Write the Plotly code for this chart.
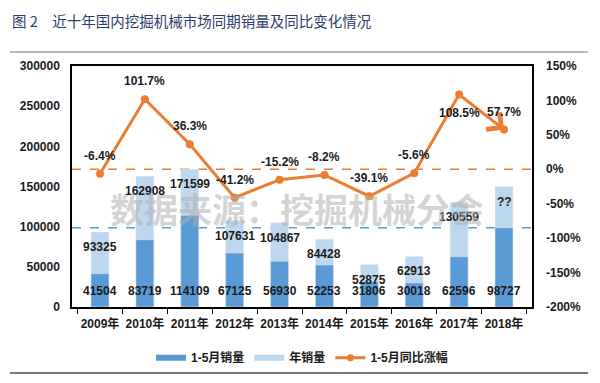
import plotly.graph_objects as go

years = ["2009年", "2010年", "2011年", "2012年", "2013年", "2014年", "2015年", "2016年", "2017年", "2018年"]
jan_may = [41504, 83719, 114109, 67125, 56930, 52253, 31806, 30018, 62596, 98727]
annual = [93325, 162908, 171599, 107631, 104867, 84428, 52875, 62913, 130559, 150000]
annual_labels = ["93325", "162908", "171599", "107631", "104867", "84428", "52875", "62913", "130559", "??"]
yoy = [-6.4, 101.7, 36.3, -41.2, -15.2, -8.2, -39.1, -5.6, 108.5, 57.7]
yoy_labels = ["-6.4%", "101.7%", "36.3%", "-41.2%", "-15.2%", "-8.2%", "-39.1%", "-5.6%", "108.5%", "57.7%"]
left_ticks = [0, 50000, 100000, 150000, 200000, 250000, 300000]
right_ticks = [-200, -150, -100, -50, 0, 50, 100, 150]

DARK = "#5b9bd5"
LIGHT = "#bdd7ee"
ORANGE = "#ed7d31"
FONT = "Liberation Sans, Arial, Noto Sans CJK SC"

fig = go.Figure()
fig.add_trace(go.Bar(x=years, y=annual, marker_color=LIGHT, width=0.4, showlegend=False, name="年销量"))
fig.add_trace(go.Bar(x=years, y=jan_may, marker_color=DARK, width=0.4, showlegend=False, name="1-5月销量"))
fig.add_trace(go.Scatter(x=years[:-1], y=yoy[:-1], yaxis="y2", mode="lines+markers",
                         line=dict(color=ORANGE, width=3), marker=dict(size=8, color=ORANGE),
                         showlegend=False))
fig.add_trace(go.Scatter(x=years[-1:], y=yoy[-1:], yaxis="y2", mode="markers",
                         marker=dict(size=8, color=ORANGE), showlegend=False))

# legend-only entries
fig.add_trace(go.Scatter(x=[None], y=[None], mode="lines", line=dict(color=DARK, width=6), name="<b>1-5月销量</b>"))
fig.add_trace(go.Scatter(x=[None], y=[None], mode="lines", line=dict(color=LIGHT, width=6), name="<b>年销量</b>"))
fig.add_trace(go.Scatter(x=[None], y=[None], mode="lines+markers", line=dict(color=ORANGE, width=3),
                         marker=dict(size=7, color=ORANGE), name="<b>1-5月同比涨幅</b>"))

ann = []
# arrow segment for last step (drawn first so labels sit on top)
ann.append(dict(x=years[-1], y=yoy[-1], xref="x", yref="y2", ax=years[-2], ay=yoy[-2],
                axref="x", ayref="y2", showarrow=True, arrowhead=4, arrowsize=1.4,
                arrowwidth=3, arrowcolor=ORANGE, standoff=0, text=""))

lab_font = dict(family=FONT, size=12, color="#1a1a1a")
for i, yr in enumerate(years):
    ann.append(dict(x=yr, y=annual[i], xref="x", yref="y", text="<b>%s</b>" % annual_labels[i],
                    showarrow=False, yanchor="top", yshift=-6, font=lab_font))
    ann.append(dict(x=yr, y=0, xref="x", yref="y", text="<b>%d</b>" % jan_may[i],
                    showarrow=False, yanchor="bottom", yshift=7, font=lab_font))
    if yoy[i] == max(yoy):
        ann.append(dict(x=yr, y=yoy[i], xref="x", yref="y2", text="<b>%s</b>" % yoy_labels[i],
                        showarrow=False, yanchor="top", yshift=-9, font=lab_font))
    else:
        ann.append(dict(x=yr, y=yoy[i], xref="x", yref="y2", text="<b>%s</b>" % yoy_labels[i],
                        showarrow=False, yanchor="bottom", yshift=9, font=lab_font))

# watermark
ann.append(dict(x=0.49, y=0.41, xref="paper", yref="paper", text="<b>数据来源：挖掘机械分会</b>",
                showarrow=False, font=dict(family="Noto Sans CJK SC", size=34, color="rgba(175,175,175,0.55)")))

# title
ann.append(dict(x=-0.135, y=1.19, xref="paper", yref="paper", xanchor="left", yanchor="middle",
                text="图 2　近十年国内挖掘机械市场同期销量及同比变化情况", showarrow=False,
                font=dict(family="Noto Sans CJK SC", size=14.5, color="#2c3c6c")))

shapes = [
    dict(type="line", xref="paper", yref="y2", x0=0, x1=1, y0=0, y1=0,
         line=dict(color=ORANGE, width=1.5, dash="dash"), layer="below"),
    dict(type="line", xref="paper", yref="y", x0=0, x1=1, y0=jan_may[-1], y1=jan_may[-1],
         line=dict(color=DARK, width=1.5, dash="dash"), layer="below"),
    dict(type="line", xref="paper", yref="paper", x0=-0.135, x1=1.122, y0=1.058, y1=1.058,
         line=dict(color="#777777", width=1)),
    dict(type="line", xref="paper", yref="paper", x0=-0.135, x1=1.122, y0=-0.274, y1=-0.274,
         line=dict(color="#777777", width=2)),
]

tick_font = dict(family=FONT, size=12, color="#1a1a1a")
fig.update_layout(
    width=600, height=383,
    margin=dict(l=64, r=76, t=58, b=84),
    paper_bgcolor="white", plot_bgcolor="white",
    barmode="overlay",
    font=dict(family=FONT),
    xaxis=dict(tickfont=tick_font, showline=True, linecolor="black", linewidth=1.5, mirror=True,
               ticks="outside", tickson="boundaries", ticklen=5, tickcolor="black",
               tickvals=years, ticktext=["<b>%s</b>" % y for y in years],
               tickangle=0, automargin=False, ticklabelstandoff=5),
    yaxis=dict(range=[0, 300000], tickvals=left_ticks, ticktext=["<b>%d</b>" % v for v in left_ticks],
               tickfont=tick_font, showgrid=False, showline=True, linecolor="black", linewidth=1.5,
               mirror=True, zeroline=False, ticks="", automargin=False, ticklabelstandoff=8),
    yaxis2=dict(range=[-200, 150], overlaying="y", side="right", tickvals=right_ticks,
                ticktext=["<b>%d%%</b>" % v for v in right_ticks], tickfont=tick_font,
                showgrid=False, zeroline=False, showline=False, ticks="", automargin=False,
                ticklabelstandoff=13),
    legend=dict(orientation="h", x=0.5, xanchor="center", y=-0.15, yanchor="top",
                font=dict(family=FONT, size=12, color="#1a1a1a"), itemwidth=30, tracegroupgap=0),
    annotations=ann,
    shapes=shapes,
)

fig.write_html("out.html")
